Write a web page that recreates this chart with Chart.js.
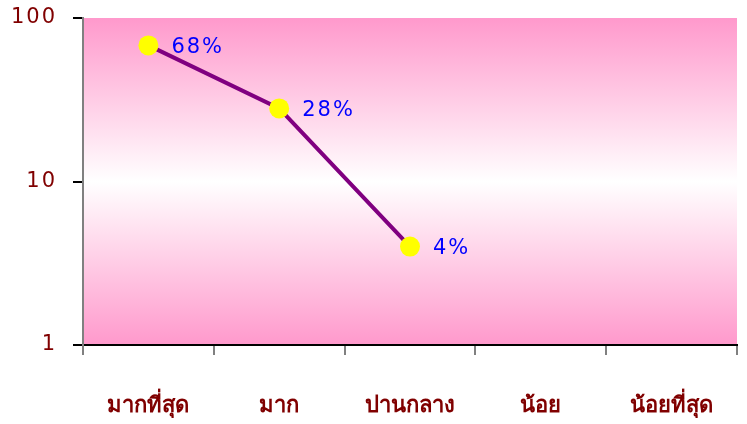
<!DOCTYPE html>
<html>
<head>
<meta charset="utf-8">
<script src="https://cdn.jsdelivr.net/npm/chart.js@4.4.1/dist/chart.umd.min.js"></script>
<style>
html,body{margin:0;padding:0;background:#fff;}
#wrap{width:747px;height:424px;}
</style>
</head>
<body>
<div id="wrap"><canvas id="c" width="747" height="424"></canvas></div>
<script>
const categories = ['มากที่สุด', 'มาก', 'ปานกลาง', 'น้อย', 'น้อยที่สุด'];
const values = [68, 28, 4, null, null];
const pointLabels = ['68%', '28%', '4%', '', ''];
const yTickValues = [1, 10, 100];

class SpacedLog extends Chart.LogarithmicScale {
  drawLabels(area) {
    const ctx = this.ctx;
    ctx.save();
    ctx.letterSpacing = '2px';
    super.drawLabels(area);
    ctx.restore();
  }
}
SpacedLog.id = 'spacedLog';
SpacedLog.defaults = Chart.LogarithmicScale.defaults;
Chart.register(SpacedLog);

const bgPlugin = {
  id: 'bgGrad',
  beforeDraw(chart) {
    const {ctx, chartArea: a} = chart;
    const g = ctx.createLinearGradient(0, a.top, 0, a.bottom);
    g.addColorStop(0, '#ff99cc');
    g.addColorStop(0.5, '#ffffff');
    g.addColorStop(1, '#ff99cc');
    ctx.save();
    ctx.fillStyle = g;
    ctx.fillRect(a.left, a.top, a.right - a.left, a.bottom - a.top);
    ctx.restore();
  }
};

const labelPlugin = {
  id: 'ptLabels',
  afterDatasetsDraw(chart) {
    const ctx = chart.ctx;
    const meta = chart.getDatasetMeta(0);
    ctx.save();
    ctx.font = '21px "DejaVu Sans"';
    ctx.fillStyle = '#0000ff';
    ctx.letterSpacing = '2px';
    ctx.textBaseline = 'middle';
    ctx.textAlign = 'left';
    meta.data.forEach((pt, i) => {
      if (values[i] == null) return;
      ctx.fillText(pointLabels[i], pt.x + 23, pt.y + 2);
    });
    ctx.restore();
  }
};

new Chart(document.getElementById('c'), {
  type: 'line',
  data: {
    labels: categories,
    datasets: [{
      data: values,
      borderColor: '#800080',
      borderWidth: 4,
      pointRadius: 10,
      pointHoverRadius: 10,
      pointBackgroundColor: '#ffff00',
      pointBorderColor: '#ffff00',
      pointBorderWidth: 0,
      tension: 0,
      spanGaps: false
    }]
  },
  options: {
    responsive: false,
    animation: false,
    events: [],
    layout: {padding: {left: 0, right: 8, top: 18, bottom: 0}},
    plugins: {legend: {display: false}, tooltip: {enabled: false}},
    scales: {
      x: {
        type: 'category',
        offset: true,
        grid: {display: true, offset: true, drawOnChartArea: false, tickLength: 10, color: '#808080', lineWidth: 2},
        border: {display: true, color: '#000000', width: 2},
        ticks: {
          color: '#800000',
          font: {family: 'Tahoma, "Noto Sans", "DejaVu Sans", sans-serif', size: 22, weight: 'bold'},
          padding: 38,
          maxRotation: 0,
          autoSkip: false
        },
        afterFit(s) { s.height = 79; s.paddingLeft = 0; s.paddingRight = 0; }
      },
      y: {
        type: 'spacedLog',
        min: 1,
        max: 100,
        grid: {display: true, drawOnChartArea: false, tickLength: 10, color: '#000000', lineWidth: 2},
        border: {display: true, color: '#808080', width: 2},
        ticks: {
          color: '#800000',
          font: {family: '"DejaVu Sans", sans-serif', size: 21},
          padding: 16,
          callback: (v) => String(v)
        },
        afterBuildTicks(s) { s.ticks = yTickValues.map(v => ({value: v})); },
        afterFit(s) { s.width = 83; s.paddingTop = 0; s.paddingBottom = 0; }
      }
    }
  },
  plugins: [bgPlugin, labelPlugin]
});
</script>
</body>
</html>
